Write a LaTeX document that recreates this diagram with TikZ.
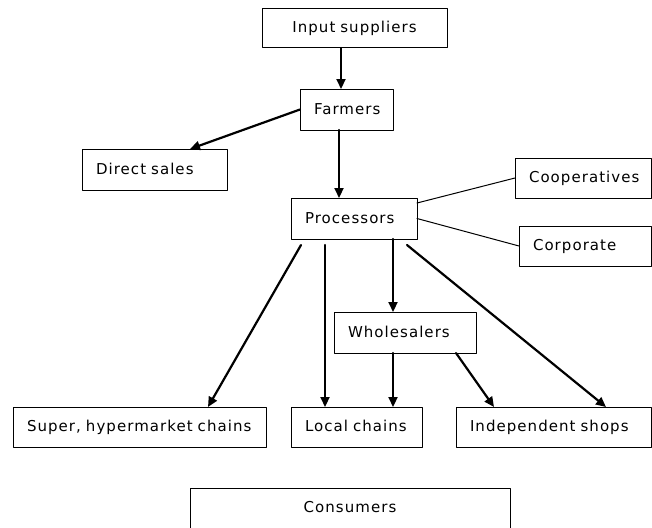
\documentclass[tikz,border=0pt]{standalone}
\usepackage{fontspec}
\newfontfamily\boxfont{DejaVu Sans}[LetterSpace=7.0]
\usetikzlibrary{arrows.meta}

\begin{document}
\begin{tikzpicture}[x=1pt, y=-1pt, line cap=round, line join=round,
  >={Triangle[length=10pt,width=9pt]},
  box/.style={draw, line width=1pt, outer sep=0pt, inner xsep=14pt, inner ysep=0pt,
    minimum height=40pt, text width=#1, align=left,
    text height=12pt, text depth=3pt,
    execute at begin node=\hbox\bgroup, execute at end node=\egroup,
    font=\boxfont\fontsize{15}{17}\selectfont},
  flow/.style={->, line width=2.2pt},
  tie/.style={line width=1pt}]

\useasboundingbox (0,0) rectangle (652,527);

\node[box=157pt, align=center, minimum height=39pt] (inp) at (354.5,28.5) {\hfil Input suppliers\hfil};
\node[box=65pt, minimum height=41pt] (farm) at (346.5,109.5) {Farmers};
\node[box=117pt, minimum height=41pt] (direct) at (154.5,169.5) {Direct sales};
\node[box=98pt, minimum height=41pt] (proc) at (354,218.5) {Processors};
\node[box=108pt] (coop) at (583,178) {Cooperatives};
\node[box=104pt] (corp) at (585,246) {Corporate};
\node[box=114pt, minimum height=41pt] (whole) at (405,332.5) {Wholesalers};

% retail row
\node[box=225pt] (super) at (139.5,427) {Super, hypermarket chains};
\node[box=103pt] (local) at (356.5,427) {Local chains};
\node[box=167pt] (indep) at (553.5,427) {Independent shops};

\node[box=292pt] (cons) at (350,508) {\hbox to 292pt{\hfil Consumers\hfil}};

\draw[flow] ([xshift=-13.5pt]inp.south) -- ([xshift=-5.5pt]farm.north);
\draw[flow] (farm.west) -- ([xshift=35.5pt]direct.north);
\draw[flow] ([xshift=-7.5pt]farm.south) -- ([xshift=-15pt]proc.north);

\draw[tie] ([yshift=15.5pt]proc.east) -- (coop.west);
\draw[tie] (proc.east) -- (corp.west);

\draw[flow] ([xshift=10pt,yshift=-6pt]proc.south west) -- ([xshift=-58pt]super.north east);
\draw[flow] ([xshift=34pt,yshift=-6pt]proc.south west) -- ([xshift=34pt]local.north west);
\draw[flow] ([xshift=39pt]proc.south) -- ([xshift=-12pt]whole.north);
\draw[flow] ([xshift=-10pt,yshift=-6pt]proc.south east) -- ([xshift=-45pt]indep.north east);

\draw[flow] ([xshift=-12pt]whole.south) -- ([xshift=-29pt]local.north east);
\draw[flow] ([xshift=-20pt]whole.south east) -- ([xshift=38pt]indep.north west);
\end{tikzpicture}
\end{document}
